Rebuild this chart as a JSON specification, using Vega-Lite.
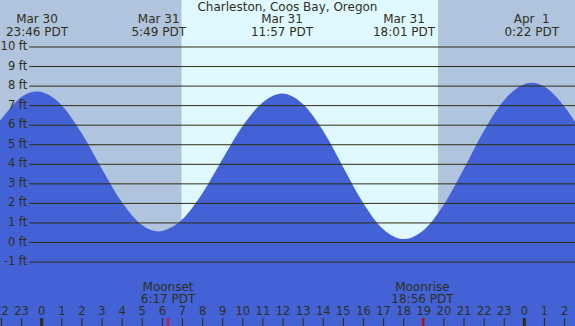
{
  "$schema": "https://vega.github.io/schema/vega-lite/v6.json",
  "width": 575,
  "height": 326,
  "padding": 0,
  "autosize": {"type": "none"},
  "background": "#B0C4DE",
  "config": {"view": {"stroke": null}, "text": {"font": "DejaVu Sans", "fontSize": 12, "color": "#30301a"}},
  "datasets": {
    "periods": [
      {"period": "night", "start": -2.0736, "end": 6.95},
      {"period": "day", "start": 6.95, "end": 19.71},
      {"period": "night", "start": 19.71, "end": 26.52}
    ],
    "tide": [
      {"hour": -2.1, "ft": 6.2},
      {"hour": -1.5, "ft": 6.95},
      {"hour": -1, "ft": 7.45},
      {"hour": -0.233, "ft": 7.72},
      {"hour": 0.5, "ft": 7.45},
      {"hour": 1, "ft": 7.01},
      {"hour": 2, "ft": 5.57},
      {"hour": 3, "ft": 3.75},
      {"hour": 4, "ft": 2.04},
      {"hour": 5, "ft": 0.88},
      {"hour": 5.817, "ft": 0.56},
      {"hour": 6.5, "ft": 0.8},
      {"hour": 7, "ft": 1.19},
      {"hour": 8, "ft": 2.53},
      {"hour": 9, "ft": 4.28},
      {"hour": 10, "ft": 5.97},
      {"hour": 11, "ft": 7.17},
      {"hour": 11.95, "ft": 7.62},
      {"hour": 13, "ft": 7.07},
      {"hour": 14, "ft": 5.7},
      {"hour": 15, "ft": 3.84},
      {"hour": 16, "ft": 2.0},
      {"hour": 17, "ft": 0.67},
      {"hour": 18.017, "ft": 0.18},
      {"hour": 19, "ft": 0.64},
      {"hour": 20, "ft": 1.95},
      {"hour": 21, "ft": 3.79},
      {"hour": 22, "ft": 5.73},
      {"hour": 23, "ft": 7.29},
      {"hour": 24, "ft": 8.1},
      {"hour": 24.367, "ft": 8.17},
      {"hour": 25, "ft": 7.97},
      {"hour": 26, "ft": 6.95},
      {"hour": 26.6, "ft": 6.05}
    ],
    "grid": [
      {"ft": 10, "label": "10 ft"}, {"ft": 9, "label": "9 ft"}, {"ft": 8, "label": "8 ft"},
      {"ft": 7, "label": "7 ft"}, {"ft": 6, "label": "6 ft"}, {"ft": 5, "label": "5 ft"},
      {"ft": 4, "label": "4 ft"}, {"ft": 3, "label": "3 ft"}, {"ft": 2, "label": "2 ft"},
      {"ft": 1, "label": "1 ft"}, {"ft": 0, "label": "0 ft"}, {"ft": -1, "label": "-1 ft"}
    ],
    "extremes": [
      {"hour": -0.233, "date": "Mar 30", "time": "23:46 PDT"},
      {"hour": 5.817, "date": "Mar 31", "time": "5:49 PDT"},
      {"hour": 11.95, "date": "Mar 31", "time": "11:57 PDT"},
      {"hour": 18.017, "date": "Mar 31", "time": "18:01 PDT"},
      {"hour": 24.367, "date": "Apr\u00a0 1", "time": "0:22 PDT"}
    ],
    "moon": [
      {"hour": 6.283, "event": "Moonset", "time": "6:17 PDT"},
      {"hour": 18.933, "event": "Moonrise", "time": "18:56 PDT"}
    ],
    "hours": [
      {"hour": -2, "label": "22"}, {"hour": -1, "label": "23"}, {"hour": 0, "label": "0"},
      {"hour": 1, "label": "1"}, {"hour": 2, "label": "2"}, {"hour": 3, "label": "3"},
      {"hour": 4, "label": "4"}, {"hour": 5, "label": "5"}, {"hour": 6, "label": "6"},
      {"hour": 7, "label": "7"}, {"hour": 8, "label": "8"}, {"hour": 9, "label": "9"},
      {"hour": 10, "label": "10"}, {"hour": 11, "label": "11"}, {"hour": 12, "label": "12"},
      {"hour": 13, "label": "13"}, {"hour": 14, "label": "14"}, {"hour": 15, "label": "15"},
      {"hour": 16, "label": "16"}, {"hour": 17, "label": "17"}, {"hour": 18, "label": "18"},
      {"hour": 19, "label": "19"}, {"hour": 20, "label": "20"}, {"hour": 21, "label": "21"},
      {"hour": 22, "label": "22"}, {"hour": 23, "label": "23"}, {"hour": 24, "label": "0"},
      {"hour": 25, "label": "1"}, {"hour": 26, "label": "2"}
    ]
  },
  "layer": [
    {
      "data": {"name": "periods"},
      "mark": {"type": "rect"},
      "encoding": {
        "x": {"field": "start", "type": "quantitative", "scale": {"domain": [-2.0736, 26.519], "nice": false, "zero": false}, "axis": null},
        "x2": {"field": "end"},
        "y": {"datum": 12.404, "type": "quantitative", "scale": {"domain": [-4.271, 12.404], "nice": false, "zero": false}, "axis": null},
        "y2": {"datum": -4.271},
        "color": {"field": "period", "type": "nominal", "scale": {"domain": ["night", "day"], "range": ["#B0C4DE", "#E0F8FF"]}, "legend": null}
      }
    },
    {
      "data": {"name": "tide"},
      "mark": {"type": "area", "color": "#4262D6", "interpolate": "monotone"},
      "encoding": {
        "x": {"field": "hour", "type": "quantitative"},
        "y": {"field": "ft", "type": "quantitative"},
        "y2": {"datum": -4.271}
      }
    },
    {
      "data": {"name": "grid"},
      "mark": {"type": "rule", "color": "#2e2e10", "strokeWidth": 1},
      "encoding": {
        "x": {"datum": -0.617, "type": "quantitative"},
        "x2": {"datum": 26.52},
        "y": {"field": "ft", "type": "quantitative"}
      }
    },
    {
      "data": {"name": "grid"},
      "mark": {"type": "text", "align": "right", "baseline": "middle", "fontSize": 11.5},
      "encoding": {
        "x": {"datum": -0.72, "type": "quantitative"},
        "y": {"field": "ft", "type": "quantitative"},
        "text": {"field": "label"}
      }
    },
    {
      "data": {"values": [{"hour": 12.22, "title": "Charleston, Coos Bay, Oregon"}]},
      "mark": {"type": "text", "align": "center", "baseline": "middle"},
      "encoding": {
        "x": {"field": "hour", "type": "quantitative"},
        "y": {"datum": 12.03, "type": "quantitative"},
        "text": {"field": "title"}
      }
    },
    {
      "data": {"name": "extremes"},
      "mark": {"type": "text", "align": "center", "baseline": "middle"},
      "encoding": {
        "x": {"field": "hour", "type": "quantitative"},
        "y": {"datum": 11.417, "type": "quantitative"},
        "text": {"field": "date"}
      }
    },
    {
      "data": {"name": "extremes"},
      "mark": {"type": "text", "align": "center", "baseline": "middle"},
      "encoding": {
        "x": {"field": "hour", "type": "quantitative"},
        "y": {"datum": 10.783, "type": "quantitative"},
        "text": {"field": "time"}
      }
    },
    {
      "data": {"name": "moon"},
      "mark": {"type": "text", "align": "center", "baseline": "middle"},
      "encoding": {
        "x": {"field": "hour", "type": "quantitative"},
        "y": {"datum": -2.292, "type": "quantitative"},
        "text": {"field": "event"}
      }
    },
    {
      "data": {"name": "moon"},
      "mark": {"type": "text", "align": "center", "baseline": "middle"},
      "encoding": {
        "x": {"field": "hour", "type": "quantitative"},
        "y": {"datum": -2.906, "type": "quantitative"},
        "text": {"field": "time"}
      }
    },
    {
      "data": {"name": "hours"},
      "mark": {"type": "text", "align": "center", "baseline": "middle", "fontSize": 11.5},
      "encoding": {
        "x": {"field": "hour", "type": "quantitative"},
        "y": {"datum": -3.54, "type": "quantitative"},
        "text": {"field": "label"}
      }
    },
    {
      "data": {"name": "hours"},
      "transform": [{"filter": "datum.label != '0'"}],
      "mark": {"type": "rule", "color": "#2e2e10", "strokeWidth": 1},
      "encoding": {
        "x": {"field": "hour", "type": "quantitative"},
        "y": {"datum": -3.862, "type": "quantitative"},
        "y2": {"datum": -4.271}
      }
    },
    {
      "data": {"name": "hours"},
      "transform": [{"filter": "datum.label == '0'"}],
      "mark": {"type": "rule", "color": "#2e2e10", "strokeWidth": 3},
      "encoding": {
        "x": {"field": "hour", "type": "quantitative"},
        "y": {"datum": -3.862, "type": "quantitative"},
        "y2": {"datum": -4.271}
      }
    },
    {
      "data": {"name": "moon"},
      "mark": {"type": "rule", "color": "#ff0000", "strokeWidth": 1.5},
      "encoding": {
        "x": {"field": "hour", "type": "quantitative"},
        "y": {"datum": -3.862, "type": "quantitative"},
        "y2": {"datum": -4.271}
      }
    }
  ]
}
